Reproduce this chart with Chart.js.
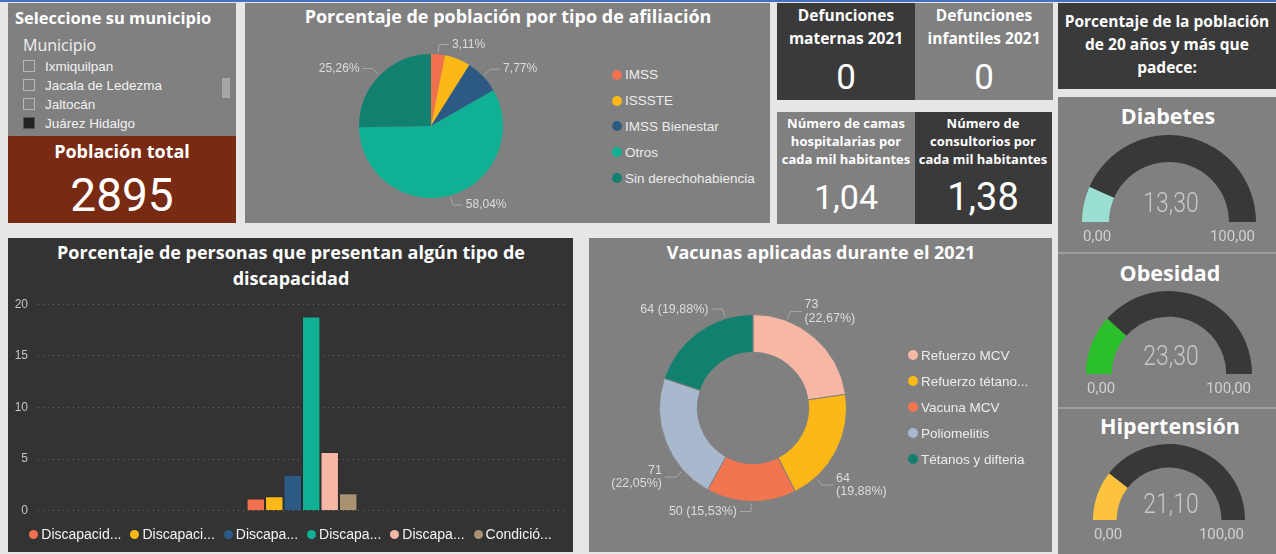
<!DOCTYPE html>
<html lang="es">
<head>
<meta charset="utf-8">
<title>Indicadores de salud municipal</title>
<script src="https://cdn.jsdelivr.net/npm/chart.js@4.4.1/dist/chart.umd.min.js"></script>
<style>
  body { margin: 0; width: 1276px; height: 554px; background: #e6e6e6; position: relative; overflow: hidden; font-family: 'Open Sans', sans-serif; }
  .p { position: absolute; }
  .gris { background: #808080; }
  .oscuro { background: #3a3a3a; }
  .t { position: absolute; color: #fff; white-space: nowrap; transform: translate(-50%, -50%); text-align: center; }
  .b { font-weight: 700; }
  .num { font-family: Roboto, sans-serif; font-weight: 400; }
  canvas { position: absolute; }
  .caja { position: absolute; left: 23px; width: 10px; height: 10px; border: 1px solid #b8b8b8; }
  .item { position: absolute; left: 45px; color: #f2f2f2; font: 13.5px 'Liberation Sans', Arial, sans-serif; transform: translateY(-50%); }
  .leyenda { position: absolute; font: 13.5px 'Liberation Sans', Arial, sans-serif; color: #ececec; }
  .leyenda div { display: flex; align-items: center; white-space: nowrap; }
  .leyenda span.punto { width: 10px; height: 10px; border-radius: 50%; margin-right: 3px; flex: none; }
  #leyendaDiscapacidad span.punto { width: 9px; height: 9px; }
</style>
</head>
<body>
<div class="p" style="left:0;top:0;width:1276px;height:2px;background:#4471c4"></div>

<!-- segmentador de municipio -->
<div class="p gris" style="left:8px;top:3px;width:228px;height:133px"></div>
<div class="t b" style="left:15px;top:17px;transform:translateY(-50%);font-size:16.5px">Seleccione su municipio</div>
<div class="t" style="left:23px;top:45px;transform:translateY(-50%);font:16px 'Open Sans',sans-serif;color:#f0f0f0">Municipio</div>
<div class="caja" style="top:60px"></div><div class="item" style="top:66px">Ixmiquilpan</div>
<div class="caja" style="top:79px"></div><div class="item" style="top:85px">Jacala de Ledezma</div>
<div class="caja" style="top:98px"></div><div class="item" style="top:104px">Jaltocán</div>
<div class="caja" style="top:117px;background:#222;border-color:#555"></div><div class="item" style="top:123px">Juárez Hidalgo</div>
<div class="p" style="left:222px;top:78px;width:8px;height:20px;background:#a6a6a6"></div>

<!-- población total -->
<div class="p" style="left:8px;top:136px;width:228px;height:87px;background:#782a13"></div>
<div class="t b" style="left:122px;top:151px;font-size:18px">Población total</div>
<div class="t num" style="left:122px;top:195px;font-size:46px">2895</div>

<!-- afiliación -->
<div class="p gris" style="left:245px;top:3px;width:525px;height:220px"></div>
<div class="t b" style="left:508px;top:16px;font-size:18px">Porcentaje de población por tipo de afiliación</div>
<canvas id="graficaAfiliacion" width="262" height="192" style="left:300px;top:30px"></canvas>
<div id="leyendaAfiliacion" class="leyenda" style="left:612px;top:62px"></div>

<!-- tarjetas -->
<div class="p oscuro" style="left:777px;top:3px;width:138px;height:97px"></div>
<div class="t b" style="left:846px;top:27px;font-size:15.5px;line-height:23px">Defunciones<br>maternas 2021</div>
<div class="t num" style="left:846px;top:77px;font-size:35px">0</div>
<div class="p gris" style="left:915px;top:3px;width:138px;height:97px"></div>
<div class="t b" style="left:984px;top:27px;font-size:15.5px;line-height:23px">Defunciones<br>infantiles 2021</div>
<div class="t num" style="left:984px;top:77px;font-size:35px">0</div>
<div class="p gris" style="left:777px;top:112px;width:138px;height:112px"></div>
<div class="t b" style="left:846px;top:141px;font-size:13px;line-height:18px">Número de camas<br>hospitalarias por<br>cada mil habitantes</div>
<div class="t num" style="left:846px;top:197px;font-size:34px">1,04</div>
<div class="p oscuro" style="left:915px;top:112px;width:137px;height:112px"></div>
<div class="t b" style="left:983px;top:141px;font-size:13px;line-height:18px">Número de<br>consultorios por<br>cada mil habitantes</div>
<div class="t num" style="left:983px;top:197px;font-size:38px">1,38</div>
<div class="p oscuro" style="left:1058px;top:3px;width:218px;height:86px"></div>
<div class="t b" style="left:1167px;top:44px;font-size:15.5px;line-height:23px">Porcentaje de la población<br>de 20 años y más que<br>padece:</div>

<!-- medidores -->
<div class="p gris" style="left:1058px;top:97px;width:218px;height:457px"></div>
<div class="p" style="left:1058px;top:252px;width:218px;height:2px;background:#9d9d9d"></div>
<div class="p" style="left:1058px;top:407px;width:218px;height:2px;background:#9d9d9d"></div>
<div class="t b" style="left:1168px;top:115px;font-size:21.5px">Diabetes</div>
<div class="t b" style="left:1170px;top:272px;font-size:21.5px">Obesidad</div>
<div class="t b" style="left:1170px;top:425px;font-size:21.5px">Hipertensión</div>
<canvas id="medidorDiabetes" width="174" height="113" style="left:1082px;top:135px"></canvas>
<canvas id="medidorObesidad" width="166" height="109" style="left:1086px;top:291px"></canvas>
<canvas id="medidorHipertension" width="152" height="102" style="left:1093px;top:444px"></canvas>

<!-- discapacidad -->
<div class="p" style="left:8px;top:238px;width:565px;height:314px;background:#333"></div>
<div class="t b" style="left:291px;top:265px;font-size:18px;line-height:26px">Porcentaje de personas que presentan algún tipo de<br>discapacidad</div>
<canvas id="graficaDiscapacidad" width="565" height="241" style="left:8px;top:287px"></canvas>
<div id="leyendaDiscapacidad" class="leyenda" style="left:8px;top:524px;width:565px;height:20px;display:flex;justify-content:center;gap:9px;font-size:14px;color:#f4f4f4"></div>

<!-- vacunas -->
<div class="p gris" style="left:589px;top:238px;width:463px;height:314px"></div>
<div class="t b" style="left:821px;top:252px;font-size:18px">Vacunas aplicadas durante el 2021</div>
<canvas id="graficaVacunas" width="326" height="236" style="left:590px;top:290px"></canvas>
<div id="leyendaVacunas" class="leyenda" style="left:908px;top:342px"></div>

<script>
// Afiliación a servicios de salud (%)
const afiliacionTipos = ['IMSS', 'ISSSTE', 'IMSS Bienestar', 'Otros', 'Sin derechohabiencia'];
const afiliacionPorcentajes = [3.11, 5.82, 7.77, 58.04, 25.26];
const afiliacionColores = ['#f1714f', '#fbb817', '#2d5a84', '#0fb094', '#12806f'];

// Discapacidad (%)
const discapacidadTipos = ['Discapacid...', 'Discapaci...', 'Discapa...', 'Discapa...', 'Discapa...', 'Condició...'];
const discapacidadValores = [1.2, 1.4, 3.5, 18.8, 5.7, 1.7];
const discapacidadColores = ['#f1714f', '#fbb817', '#2d5a84', '#0fb094', '#f6b8a5', '#a89272'];
const discapacidadTicks = [0, 5, 10, 15, 20];

// Vacunas aplicadas 2021
const vacunasTipos = ['Refuerzo MCV', 'Refuerzo tétano...', 'Vacuna MCV', 'Poliomelitis', 'Tétanos y difteria'];
const vacunasDosis = [73, 64, 50, 71, 64];
const vacunasColores = ['#f6b8a5', '#fbb817', '#f1764f', '#a8b9cd', '#12806f'];

// Población de 20 años y más que padece (%)
const padecimientos = ['Diabetes', 'Obesidad', 'Hipertensión'];
const padecimientosValores = [13.3, 23.3, 21.1];
const padecimientosColores = ['#9bdfd2', '#2bc02b', '#fdc23e'];
const medidorMin = 0;
const medidorMax = 100;

const fmt = v => v.toFixed(2).replace('.', ',');

// etiquetas fuera del arco con línea guía
const etiquetasExternas = {
    id: 'etiquetasExternas',
    afterDatasetsDraw(chart, args, opts) {
        const ctx = chart.ctx;
        const arcos = chart.getDatasetMeta(0).data;
        ctx.save();
        ctx.font = opts.fuente;
        ctx.lineWidth = 1;
        ctx.textBaseline = 'middle';
        arcos.forEach((arco, i) => {
            const lineas = opts.textos[i];
            if (!lineas) return;
            const { x, y, startAngle, endAngle, outerRadius } = arco.getProps(['x', 'y', 'startAngle', 'endAngle', 'outerRadius'], true);
            const f = opts.posiciones ? opts.posiciones[i] : 0.5;
            const a = startAngle + (endAngle - startAngle) * f;
            const cos = Math.cos(a), sin = Math.sin(a);
            const x0 = x + cos * (outerRadius + 2), y0 = y + sin * (outerRadius + 2);
            const x1 = x + cos * (outerRadius + 10), y1 = y + sin * (outerRadius + 10);
            const lado = cos >= 0 ? 1 : -1;
            const x2 = x1 + lado * opts.tramo;
            ctx.strokeStyle = opts.colorLinea;
            ctx.beginPath();
            ctx.moveTo(x0, y0);
            ctx.lineTo(x1, y1);
            ctx.lineTo(x2, y1);
            ctx.stroke();
            ctx.fillStyle = opts.colorTexto;
            ctx.textAlign = lado > 0 ? 'left' : 'right';
            lineas.forEach((l, k) => {
                ctx.fillText(l, x2 + lado * 3, y1 + (k - (lineas.length - 1) / 2) * opts.interlineado);
            });
        });
        ctx.restore();
    }
};

// valor y extremos del medidor
const textoMedidor = {
    id: 'textoMedidor',
    afterDraw(chart) {
        const ctx = chart.ctx;
        const arco = chart.getDatasetMeta(0).data[0];
        const { x, y, outerRadius } = arco.getProps(['x', 'y', 'outerRadius'], true);
        const valor = chart.data.datasets[0].data[0];
        ctx.save();
        ctx.fillStyle = '#c8c8c8';
        ctx.textBaseline = 'middle';
        ctx.textAlign = 'center';
        ctx.font = '300 28px Roboto';
        ctx.translate(x + 2, y - outerRadius * 0.19);
        ctx.scale(0.82, 1);
        ctx.fillText(fmt(valor), 0, 0);
        ctx.restore();
        ctx.save();
        ctx.fillStyle = '#d0d0d0';
        ctx.textBaseline = 'middle';
        ctx.font = '15px Roboto';
        ctx.textAlign = 'left';
        ctx.fillText(fmt(medidorMin), x - outerRadius + 1, y + 15);
        ctx.textAlign = 'right';
        ctx.fillText(fmt(medidorMax), x + outerRadius - 1, y + 15);
        ctx.restore();
    }
};

function leyendaHtml(id, nombres, colores, alto) {
    const cont = document.getElementById(id);
    nombres.forEach((n, i) => {
        const d = document.createElement('div');
        if (alto) d.style.height = alto + 'px';
        d.innerHTML = '<span class="punto" style="background:' + colores[i] + '"></span>' + n;
        cont.appendChild(d);
    });
}

Chart.defaults.animation = false;
Chart.defaults.responsive = false;
Chart.defaults.plugins.tooltip.enabled = false;
Chart.defaults.plugins.legend.display = false;

// pastel de afiliación
new Chart(document.getElementById('graficaAfiliacion'), {
    type: 'pie',
    data: {
        labels: afiliacionTipos,
        datasets: [{ data: afiliacionPorcentajes, backgroundColor: afiliacionColores, borderWidth: 0 }]
    },
    options: {
        layout: { padding: 24 },
        plugins: {
            etiquetasExternas: {
                textos: afiliacionPorcentajes.map((v, i) => i === 1 ? null : [fmt(v) + '%']),
                fuente: "12px 'Liberation Sans', Arial",
                colorTexto: '#dcdcdc',
                colorLinea: '#a9a9a9',
                tramo: 10,
                interlineado: 14
            }
        }
    },
    plugins: [etiquetasExternas]
});
leyendaHtml('leyendaAfiliacion', afiliacionTipos, afiliacionColores, 25.8);

// barras de discapacidad (el eje reserva medio rótulo + separación arriba y abajo)
new Chart(document.getElementById('graficaDiscapacidad'), {
    type: 'bar',
    data: {
        labels: [''],
        datasets: discapacidadTipos.map((t, i) => ({
            label: t,
            data: [discapacidadValores[i]],
            backgroundColor: discapacidadColores[i],
            borderColor: 'rgba(0,0,0,0.15)',
            borderWidth: 1,
            categoryPercentage: 0.21,
            barPercentage: 1
        }))
    },
    options: {
        layout: { padding: { right: 7 } },
        scales: {
            x: { display: false },
            y: {
                min: 0,
                max: 20,
                afterFit: scale => { scale.width = 30; },
                afterBuildTicks: scale => { scale.ticks = discapacidadTicks.map(v => ({ value: v })); },
                ticks: { color: '#c4c4c4', padding: 10, font: { family: "'Liberation Sans', Arial", size: 12 } },
                grid: { color: 'rgba(150,150,150,0.55)', drawTicks: false },
                border: { display: false, dash: [1, 4] }
            }
        }
    }
});
leyendaHtml('leyendaDiscapacidad', discapacidadTipos, discapacidadColores);

// dona de vacunas
const totalDosis = vacunasDosis.reduce((a, b) => a + b, 0);
const vacunasDosLineas = [true, true, false, true, false];
new Chart(document.getElementById('graficaVacunas'), {
    type: 'doughnut',
    data: {
        labels: vacunasTipos,
        datasets: [{ data: vacunasDosis, backgroundColor: vacunasColores, borderColor: '#808080', borderWidth: 1 }]
    },
    options: {
        cutout: '59.5%',
        layout: { padding: 24 },
        plugins: {
            etiquetasExternas: {
                textos: vacunasDosis.map((v, i) => {
                    const pct = fmt(v / totalDosis * 100);
                    return vacunasDosLineas[i] ? [String(v), '(' + pct + '%)'] : [v + ' (' + pct + '%)'];
                }),
                posiciones: [0.26, 0.79, 0.5, 0.24, 0.76],
                fuente: "12.5px 'Liberation Sans', Arial",
                colorTexto: '#dcdcdc',
                colorLinea: '#a9a9a9',
                tramo: 11,
                interlineado: 13.5
            }
        }
    },
    plugins: [etiquetasExternas]
});
leyendaHtml('leyendaVacunas', vacunasTipos, vacunasColores, 26);

// medidores semicirculares
['medidorDiabetes', 'medidorObesidad', 'medidorHipertension'].forEach((id, i) => {
    const v = padecimientosValores[i];
    new Chart(document.getElementById(id), {
        type: 'doughnut',
        data: {
            labels: [padecimientos[i], ''],
            datasets: [{
                data: [v - medidorMin, medidorMax - v],
                backgroundColor: [padecimientosColores[i], '#383838'],
                borderWidth: 0
            }]
        },
        options: {
            rotation: -90,
            circumference: 180,
            cutout: '69%',
            layout: { padding: { bottom: 26 } }
        },
        plugins: [textoMedidor]
    });
});
</script>
</body>
</html>
